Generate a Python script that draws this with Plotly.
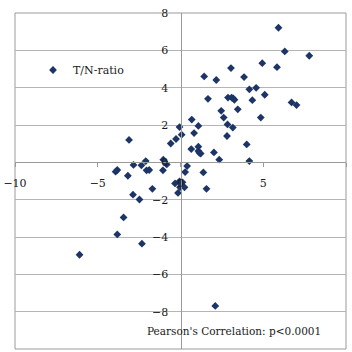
import plotly.graph_objects as go

# T/N-ratio scatter values (x, y)
x_vals = [5.92, 6.30, 7.78, 4.94, 5.83, 3.05, 1.43, 2.16, 3.84, 4.16,
          4.57, 5.09, 1.66, 2.87, 3.09, 3.19, 3.26, 4.34, 6.71, 7.01,
          3.46, 2.46, 2.61, 4.85, 0.68, 1.08, 2.84, 3.16, -0.06, 0.07,
          0.82, 2.81, 4.00, 0.65, 1.08, 1.08, 1.14, 1.22, 2.02, 2.34,
          4.16, 0.40, 0.28, 1.38, -0.27, -0.59, -3.11, -1.04, -0.91, -0.83,
          -2.10, -2.84, -2.36, -2.05, -1.89, -1.06, -3.82, -3.92, -3.18, -0.33,
          -0.06, 0.12, -0.03, 0.24, -0.15, -1.70, 1.57, -2.87, -2.48, -3.44,
          -3.82, -2.33, -6.10, 2.10]
y_vals = [7.21, 5.94, 5.71, 5.31, 5.10, 5.05, 4.60, 4.41, 4.57, 3.91,
          3.99, 3.62, 3.40, 3.47, 3.47, 3.42, 3.35, 3.33, 3.21, 3.07,
          2.84, 2.76, 2.40, 2.40, 2.29, 1.95, 2.03, 1.86, 1.89, 1.48,
          1.57, 1.41, 0.96, 0.71, 0.84, 0.61, 0.51, 0.47, 0.53, 0.14,
          0.07, -0.20, -0.52, -0.54, 1.25, 1.01, 1.20, 0.14, -0.03, -0.11,
          0.07, -0.14, -0.16, -0.43, -0.41, -0.43, -0.41, -0.50, -0.72, -1.13,
          -1.02, -1.07, -1.34, -1.34, -1.64, -1.42, -1.42, -1.73, -1.99, -2.95,
          -3.86, -4.36, -4.95, -7.69]

series_name = "T/N-ratio"
annotation_text = "Pearson's Correlation: p<0.0001"

x_range = [-10, 10]
y_range = [-10, 8]

FONT = "DejaVu Serif"
GRAY = "#9a9a9a"
TXT = "#1a1a1a"

fig = go.Figure()
fig.add_trace(go.Scatter(
    x=x_vals, y=y_vals, mode="markers", name=series_name,
    marker=dict(symbol="diamond", size=6, color="#1c3566"),
    showlegend=True,
))

fig.update_layout(
    width=352, height=352,
    margin=dict(l=15, r=6, t=13, b=3),
    paper_bgcolor="white", plot_bgcolor="white",
    font=dict(family=FONT, size=11, color=TXT),
    showlegend=True,
    legend=dict(x=(33 - 15) / 331, y=(349 - 70) / 336, xanchor="left", yanchor="middle",
                bgcolor="rgba(0,0,0,0)", font=dict(family=FONT, size=11, color=TXT),
                itemwidth=30),
    xaxis=dict(range=x_range, dtick=5, tick0=0, showgrid=False, zeroline=False,
               showline=True, linecolor=GRAY, linewidth=1,
               anchor="free", position=(0 - y_range[0]) / (y_range[1] - y_range[0]),
               ticks="outside", ticklen=4, tickcolor=GRAY, ticklabelstandoff=6,
               tickfont=dict(family=FONT, size=11, color=TXT),
               automargin=False, fixedrange=True),
    yaxis=dict(range=y_range, dtick=2, tick0=0, showgrid=True, gridcolor="#b5b5b5", gridwidth=1,
               zeroline=False, showline=True, linecolor=GRAY, linewidth=1,
               anchor="free", position=(0 - x_range[0]) / (x_range[1] - x_range[0]),
               ticks="", ticklabelstandoff=10,
               tickfont=dict(family=FONT, size=11, color=TXT),
               automargin=False, fixedrange=True),
    shapes=[dict(type="rect", xref="paper", yref="paper", x0=0, x1=1, y0=0, y1=1,
                 line=dict(color=GRAY, width=1), layer="below")],
    annotations=[dict(text=annotation_text, xref="paper", yref="paper",
                      x=(234 - 15) / 331, y=(349 - 331) / 336, showarrow=False,
                      xanchor="center", yanchor="middle",
                      font=dict(family=FONT, size=10.5, color=TXT))],
)

fig.write_html("out.html", config={"displayModeBar": False},
               post_script="document.body.style.margin='0';")
